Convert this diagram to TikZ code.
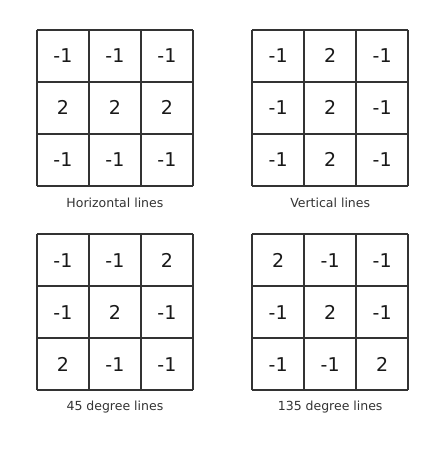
\documentclass[tikz,border=0pt]{standalone}
\usepackage{fontspec}
\setmainfont{DejaVu Sans}
\begin{document}
\begin{tikzpicture}[x=52pt,y=52pt,
        gridline/.style={line width=1.6pt,draw=black!80,step={(1,1)}},
        val/.style={font=\fontsize{19}{19}\selectfont,text=black!90},
        caption/.style={font=\fontsize{12.5}{13}\selectfont,text=black!80}]
        \useasboundingbox[fill=white] (0,0) rectangle (8.615,8.885);

        \draw[gridline,shift={(0.71,5.31)}] (0,0) grid (3,3);
        \draw[gridline,shift={(4.85,5.31)}] (0,0) grid (3,3);
        \draw[gridline,shift={(0.71,1.38)}] (0,0) grid (3,3);
        \draw[gridline,shift={(4.85,1.38)}] (0,0) grid (3,3);

        % horizontal
        \node[val] (h11) at (1.21, 7.81) {-1};
        \node[val] (h12) at (2.21, 7.81) {-1};
        \node[val] (h13) at (3.21, 7.81) {-1};
        \node[val] (h21) at (1.21, 6.81) {2};
        \node[val] (h22) at (2.21, 6.81) {2};
        \node[val] (h23) at (3.21, 6.81) {2};
        \node[val] (h31) at (1.21, 5.81) {-1};
        \node[val] (h32) at (2.21, 5.81) {-1};
        \node[val] (h33) at (3.21, 5.81) {-1};
        \node[caption] (hcap) at (2.21, 4.98) {Horizontal lines};

        % vertical
        \node[val] (v11) at (5.35, 7.81) {-1};
        \node[val] (v12) at (6.35, 7.81) {2};
        \node[val] (v13) at (7.35, 7.81) {-1};
        \node[val] (v21) at (5.35, 6.81) {-1};
        \node[val] (v22) at (6.35, 6.81) {2};
        \node[val] (v23) at (7.35, 6.81) {-1};
        \node[val] (v31) at (5.35, 5.81) {-1};
        \node[val] (v32) at (6.35, 5.81) {2};
        \node[val] (v33) at (7.35, 5.81) {-1};
        \node[caption] (vcap) at (6.35, 4.98) {Vertical lines};

        % 45 degree
        \node[val] (d11) at (1.21, 3.88) {-1};
        \node[val] (d12) at (2.21, 3.88) {-1};
        \node[val] (d13) at (3.21, 3.88) {2};
        \node[val] (d21) at (1.21, 2.88) {-1};
        \node[val] (d22) at (2.21, 2.88) {2};
        \node[val] (d23) at (3.21, 2.88) {-1};
        \node[val] (d31) at (1.21, 1.88) {2};
        \node[val] (d32) at (2.21, 1.88) {-1};
        \node[val] (d33) at (3.21, 1.88) {-1};
        \node[caption] (dcap) at (2.21, 1.06) {45 degree lines};

        % 135 degree
        \node[val] (a11) at (5.35, 3.88) {2};
        \node[val] (a12) at (6.35, 3.88) {-1};
        \node[val] (a13) at (7.35, 3.88) {-1};
        \node[val] (a21) at (5.35, 2.88) {-1};
        \node[val] (a22) at (6.35, 2.88) {2};
        \node[val] (a23) at (7.35, 2.88) {-1};
        \node[val] (a31) at (5.35, 1.88) {-1};
        \node[val] (a32) at (6.35, 1.88) {-1};
        \node[val] (a33) at (7.35, 1.88) {2};
        \node[caption] (acap) at (6.35, 1.06) {135 degree lines};

    \end{tikzpicture}
\end{document}
